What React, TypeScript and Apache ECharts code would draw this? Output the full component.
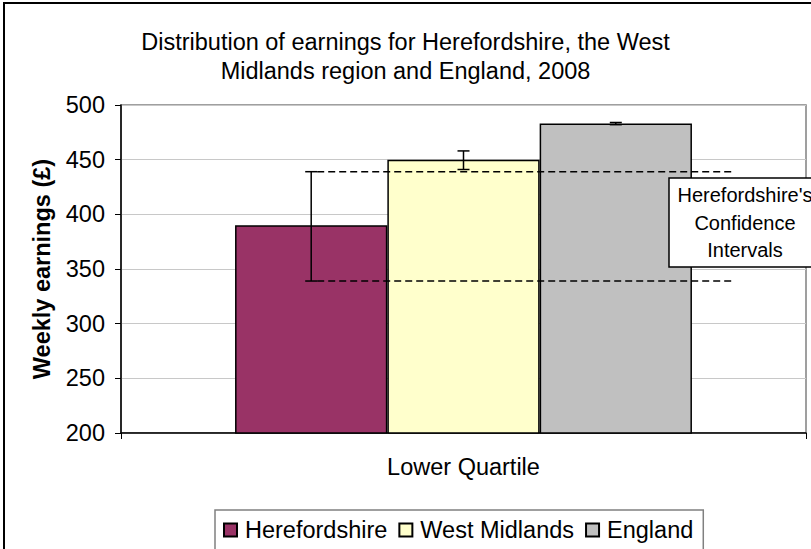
import React, { useEffect, useRef } from "react";
import * as echarts from "echarts";

const categories = ["Lower Quartile"];
const seriesNames = ["Herefordshire", "West Midlands", "England"];
const herefordshire = [390];
const westMidlands = [450];
const england = [483];
const ciLow = [339, 441, 482];
const ciHigh = [439, 458, 484];
const seriesColors = ["#993366", "#FFFFCC", "#C0C0C0"];
const titleText = "Distribution of earnings for Herefordshire, the West\nMidlands region and England, 2008";
const yAxisName = "Weekly earnings (£)";
const boxText = "Herefordshire's\nConfidence\nIntervals";

const FONT = "'Liberation Sans', Arial, sans-serif";
const CAT_GAP = 0.333;

export default function App() {
  const ref = useRef<HTMLDivElement>(null);
  useEffect(() => {
    document.body.style.margin = "0";
    const chart = echarts.init(ref.current!, null, { renderer: "svg" });
    const barValues = [herefordshire, westMidlands, england];
    const errData = seriesNames.map((_, s) => [0, s, ciLow[s], ciHigh[s]]);
    chart.setOption({
      animation: false,
      backgroundColor: "#ffffff",
      textStyle: { fontFamily: FONT },
      title: {
        text: titleText,
        left: "center",
        top: 22,
        textStyle: { fontSize: 23.5, fontWeight: "normal", color: "#000", lineHeight: 29, fontFamily: FONT },
      },
      grid: {
        left: 121,
        top: 105,
        right: 5,
        bottom: 116,
        show: true,
        borderColor: "#808080",
        borderWidth: 1.5,
        backgroundColor: "#fff",
      },
      legend: {
        data: seriesNames,
        left: 215,
        top: 510,
        padding: [8, 10, 8, 8],
        itemGap: 11,
        itemWidth: 13,
        itemHeight: 13,
        icon: "rect",
        borderColor: "#808080",
        borderWidth: 1.5,
        textStyle: { fontSize: 23.5, color: "#000", fontFamily: FONT, padding: [0, 0, 0, 3] },
      },
      xAxis: {
        type: "category",
        data: categories,
        axisLine: { lineStyle: { color: "#000", width: 1.5 } },
        axisTick: { show: true, length: 6, lineStyle: { color: "#000" } },
        axisLabel: { fontSize: 23.5, color: "#000", margin: 22, fontFamily: FONT },
      },
      yAxis: {
        type: "value",
        min: 200,
        max: 500,
        interval: 50,
        name: yAxisName,
        nameLocation: "middle",
        nameGap: 67,
        nameTextStyle: { fontSize: 23.5, fontWeight: "bold", color: "#000", fontFamily: FONT },
        axisLine: { show: true, lineStyle: { color: "#000", width: 1.5 } },
        axisTick: { show: true, length: 6, lineStyle: { color: "#000" } },
        axisLabel: { fontSize: 23.5, color: "#000", margin: 16, fontFamily: FONT },
        splitLine: { lineStyle: { color: "#c8c8c8", width: 1 } },
      },
      series: [
        ...seriesNames.map((name, i) => ({
          name,
          type: "bar",
          data: barValues[i],
          barGap: "0%",
          barCategoryGap: "33.3%",
          itemStyle: { color: seriesColors[i], borderColor: "#000", borderWidth: 1.5 },
          z: 2,
        })),
        {
          type: "custom",
          name: "ci",
          data: errData,
          z: 5,
          renderItem: (params: any, api: any) => {
            const cat = api.value(0);
            const s = api.value(1);
            const lo = api.coord([cat, api.value(2)]);
            const hi = api.coord([cat, api.value(3)]);
            const band = api.size([1, 0])[0];
            const barW = (band * (1 - CAT_GAP)) / 3;
            const x = lo[0] + (s - 1) * barW;
            const cap = 6;
            const st = { stroke: "#000", lineWidth: 1.5 };
            const children: any[] = [
              { type: "line", shape: { x1: x, y1: hi[1], x2: x, y2: lo[1] }, style: st },
              { type: "line", shape: { x1: x - cap, y1: hi[1], x2: x + cap, y2: hi[1] }, style: st },
              { type: "line", shape: { x1: x - cap, y1: lo[1], x2: x + cap, y2: lo[1] }, style: st },
            ];
            if (s === 0) {
              const xEnd = lo[0] + band * 0.392;
              const ds = { stroke: "#000", lineWidth: 1.5, lineDash: [7, 4] };
              children.push(
                { type: "line", shape: { x1: x + cap, y1: hi[1], x2: xEnd, y2: hi[1] }, style: ds },
                { type: "line", shape: { x1: x + cap, y1: lo[1], x2: xEnd, y2: lo[1] }, style: ds }
              );
            }
            return { type: "group", children };
          },
        },
      ],
      graphic: [
        {
          type: "rect",
          shape: { x: 4, y: 3, width: 900, height: 700 },
          style: { fill: "none", stroke: "#000", lineWidth: 2 },
          silent: true,
          z: 100,
        },
        {
          type: "rect",
          shape: { x: 669, y: 178, width: 152, height: 89 },
          style: { fill: "#fff", stroke: "#000", lineWidth: 1.5 },
          z: 110,
        },
        {
          type: "text",
          x: 745,
          y: 222.5,
          z: 111,
          style: {
            text: boxText,
            fontSize: 20,
            fontFamily: FONT,
            fill: "#000",
            align: "center",
            verticalAlign: "middle",
            lineHeight: 27.5,
          },
        },
      ],
    });
    return () => chart.dispose();
  }, []);
  return <div ref={ref} style={{ position: "absolute", left: 0, top: 0, width: 811, height: 549 }} />;
}
